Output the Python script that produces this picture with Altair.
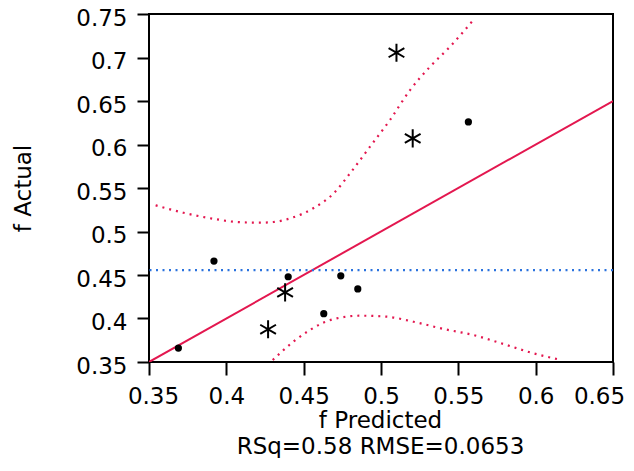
import altair as alt
import pandas as pd

# ---- data ----
dot_pred = [0.369, 0.392, 0.440, 0.474, 0.485, 0.463, 0.5565]
dot_act = [0.366, 0.466, 0.448, 0.449, 0.434, 0.4055, 0.626]

star_pred = [0.510, 0.5205, 0.438, 0.427]
star_act = [0.7055, 0.607, 0.430, 0.3876]

fit_x = [0.35, 0.65]
fit_y = [0.35, 0.65]

mean_actual = [0.4557]

upper_x = [0.3543, 0.3722, 0.3938, 0.4067, 0.4207, 0.4304, 0.4433, 0.4562,
           0.4698, 0.4800, 0.4929, 0.5058, 0.5188, 0.5317, 0.5446, 0.5597]
upper_y = [0.5301, 0.5216, 0.5140, 0.5109, 0.5101, 0.5109, 0.5163, 0.5267,
           0.5446, 0.5669, 0.5975, 0.6282, 0.6626, 0.6894, 0.7124, 0.7431]

lower_x = [0.4300, 0.4433, 0.4541, 0.4627, 0.4714, 0.4864, 0.5037, 0.5209,
           0.5414, 0.5597, 0.5813, 0.5985, 0.6146]
lower_y = [0.3523, 0.3733, 0.3868, 0.3952, 0.4002, 0.4032, 0.4021, 0.3963,
           0.3876, 0.3810, 0.3695, 0.3600, 0.3531]

x_ticks = [0.35, 0.4, 0.45, 0.5, 0.55, 0.6, 0.65]
y_ticks = [0.35, 0.4, 0.45, 0.5, 0.55, 0.6, 0.65, 0.7, 0.75]

RED = "#E3174F"
BLUE = "#2A72DE"
FONT = "DejaVu Sans"

dots = pd.DataFrame({"pred": dot_pred, "act": dot_act})
stars = pd.DataFrame({"pred": star_pred, "act": star_act})
fit = pd.DataFrame({"pred": fit_x, "act": fit_y})
mean_df = pd.DataFrame({"act": mean_actual})
curves = pd.concat([
    pd.DataFrame({"pred": upper_x, "act": upper_y, "curve": "upper"}),
    pd.DataFrame({"pred": lower_x, "act": lower_y, "curve": "lower"}),
])

xscale = alt.Scale(domain=[0.35, 0.65], nice=False, zero=False)
yscale = alt.Scale(domain=[0.35, 0.75], nice=False, zero=False)

x_axis = alt.Axis(
    values=x_ticks, format=".2~f", grid=False, domain=False,
    tickColor="black", tickWidth=2, tickSize=13,
    labelFont=FONT, labelFontSize=23, labelColor="black", labelPadding=10,
    labelFlush=False, labelOverlap=False,
    labelOffset={"condition": [{"test": "datum.value < 0.36", "value": 4},
                               {"test": "datum.value > 0.64", "value": -14}],
                 "value": 0},
    title=["f Predicted", "RSq=0.58 RMSE=0.0653"],
    titleFont=FONT, titleFontSize=23, titleFontWeight="normal", titleColor="black",
    titleLineHeight=26, titleBaseline="alphabetic", titleX=231, titleY=65,
)
y_axis = alt.Axis(
    values=y_ticks, format=".2~f", grid=False, domain=False,
    tickColor="black", tickWidth=2, tickSize=12,
    labelFont=FONT, labelFontSize=23, labelColor="black", labelPadding=10,
    labelOffset=4, labelOverlap=False,
    title="f Actual",
    titleFont=FONT, titleFontSize=23, titleFontWeight="normal", titleColor="black",
    titleBaseline="middle", titleX=-126, titleY=174,
)

X = alt.X("pred:Q", scale=xscale, axis=x_axis)
Y = alt.Y("act:Q", scale=yscale, axis=y_axis)

fit_line = alt.Chart(fit).mark_line(color=RED, strokeWidth=2, clip=True).encode(x=X, y=Y)

mean_line = alt.Chart(mean_df).mark_rule(
    color=BLUE, strokeWidth=2.2, strokeDash=[2, 4.5]
).encode(y=Y)

conf = alt.Chart(curves).mark_line(
    color=RED, strokeWidth=2.2, strokeDash=[2, 5], interpolate="monotone", clip=True
).encode(x=X, y=Y, detail="curve:N")

dot_marks = alt.Chart(dots).mark_point(
    shape="circle", filled=True, size=52, color="black", opacity=1
).encode(x=X, y=Y)

ASTERISK = "M0,-1L0,1M-0.866,-0.5L0.866,0.5M-0.866,0.5L0.866,-0.5"
star_marks = alt.Chart(stars).mark_point(
    shape=ASTERISK, filled=False, size=330, color="black", strokeWidth=2, opacity=1
).encode(x=X, y=Y)

chart = alt.layer(fit_line, mean_line, conf, dot_marks, star_marks).properties(
    width=464, height=348,
    autosize=alt.AutoSizeParams(type="none"),
    padding={"left": 141, "top": 6, "right": 13, "bottom": 96},
    background="white",
).configure_view(stroke="black", strokeWidth=2)

chart.save("out.html", embed_options={"renderer": "svg", "actions": False})
